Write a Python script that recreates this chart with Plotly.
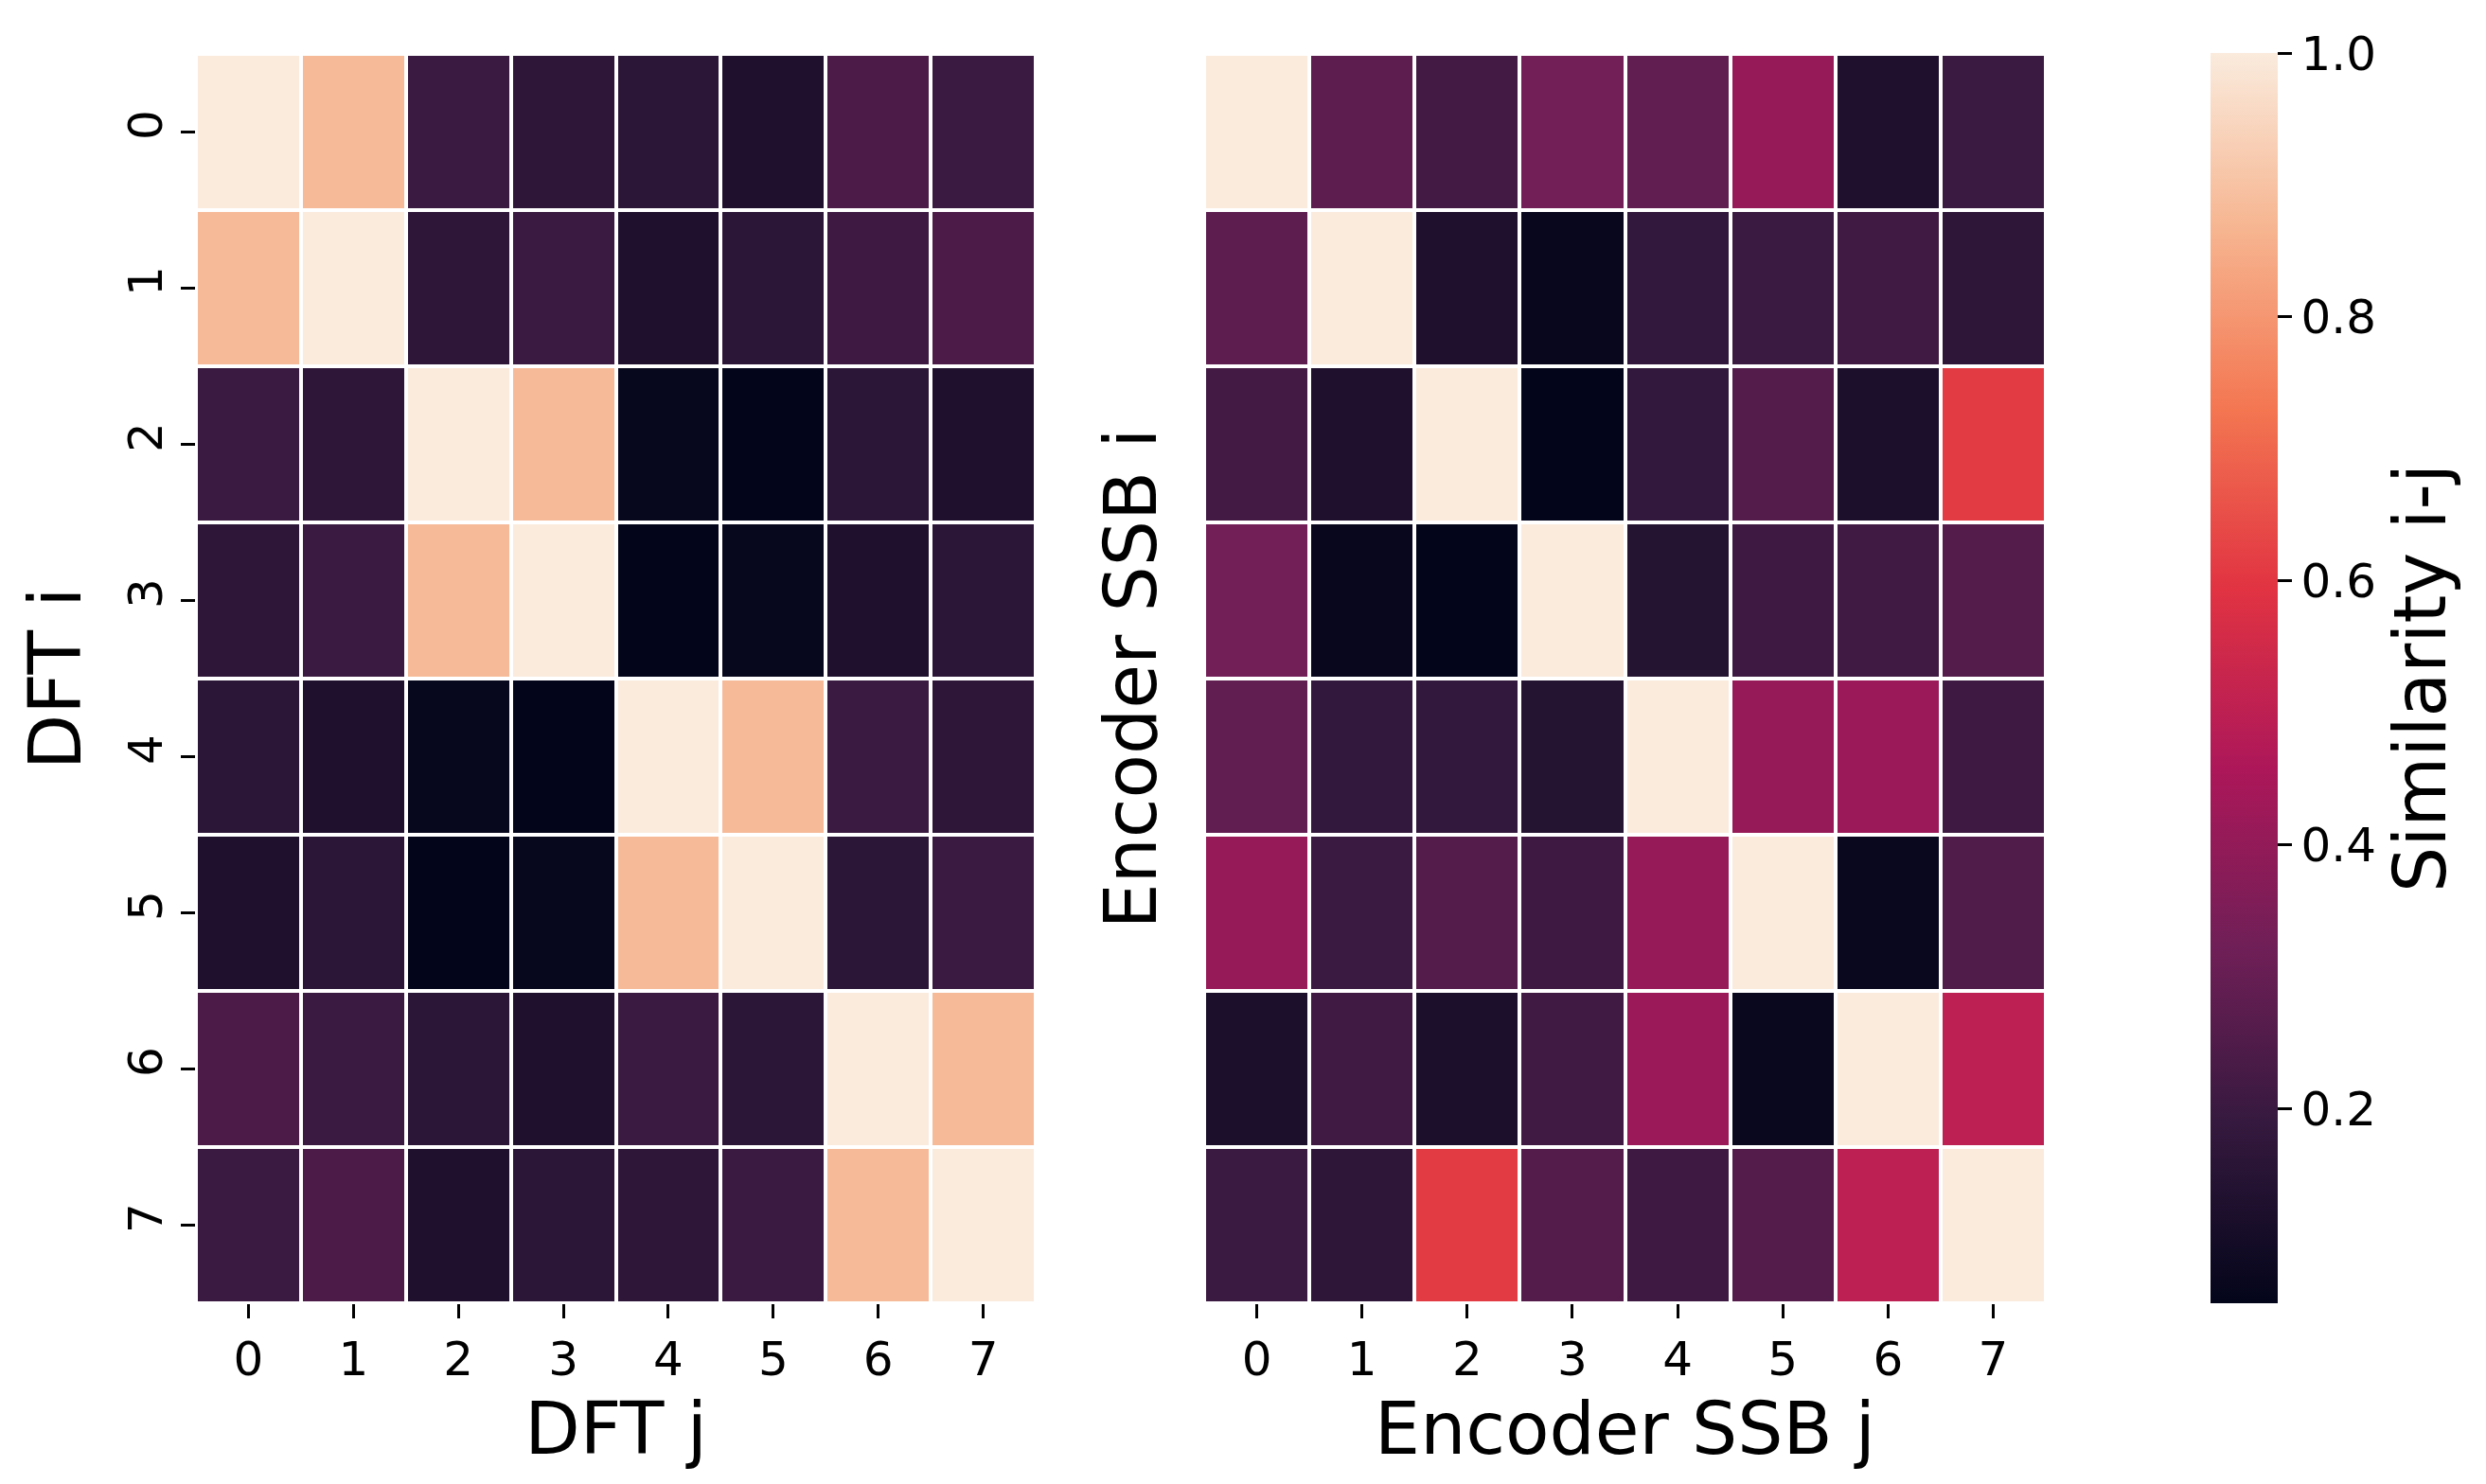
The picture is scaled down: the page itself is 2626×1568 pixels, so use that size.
import plotly.graph_objects as go

# similarity matrices (row i, column j)
labels = [0, 1, 2, 3, 4, 5, 6, 7]

dft_sim = [
    [1.00, 0.88, 0.20, 0.17, 0.165, 0.13, 0.24, 0.20],
    [0.88, 1.00, 0.17, 0.20, 0.13, 0.165, 0.21, 0.24],
    [0.20, 0.17, 1.00, 0.88, 0.064, 0.053, 0.165, 0.13],
    [0.17, 0.20, 0.88, 1.00, 0.053, 0.064, 0.13, 0.165],
    [0.165, 0.13, 0.064, 0.053, 1.00, 0.88, 0.20, 0.17],
    [0.13, 0.165, 0.053, 0.064, 0.88, 1.00, 0.165, 0.20],
    [0.24, 0.20, 0.165, 0.13, 0.20, 0.165, 1.00, 0.88],
    [0.20, 0.24, 0.13, 0.165, 0.17, 0.20, 0.88, 1.00],
]

ssb_sim = [
    [1.00, 0.28, 0.22, 0.33, 0.29, 0.41, 0.13, 0.20],
    [0.28, 1.00, 0.13, 0.069, 0.18, 0.20, 0.215, 0.17],
    [0.22, 0.13, 1.00, 0.053, 0.18, 0.26, 0.118, 0.61],
    [0.33, 0.069, 0.053, 1.00, 0.145, 0.21, 0.215, 0.26],
    [0.29, 0.18, 0.18, 0.145, 1.00, 0.41, 0.42, 0.21],
    [0.41, 0.20, 0.26, 0.21, 0.41, 1.00, 0.07, 0.25],
    [0.118, 0.215, 0.118, 0.215, 0.42, 0.07, 1.00, 0.50],
    [0.20, 0.17, 0.61, 0.26, 0.21, 0.26, 0.50, 1.00],
]

cbar_ticks = [0.2, 0.4, 0.6, 0.8, 1.0]

# seaborn "rocket"
ROCKET = [
    [0.0, "#03051a"], [1 / 7, "#35193e"], [2 / 7, "#701f57"], [3 / 7, "#ad1759"],
    [4 / 7, "#e13342"], [5 / 7, "#f37651"], [6 / 7, "#f6b48f"], [1.0, "#faebdd"],
]
FONT = "DejaVu Sans"
TICK = dict(family=FONT, size=50, color="black")
TITLE = dict(family=FONT, size=76, color="black")

fig = go.Figure()
fig.add_trace(go.Heatmap(z=dft_sim, x=labels, y=labels, coloraxis="coloraxis",
                         xgap=4, ygap=4, xaxis="x", yaxis="y"))
fig.add_trace(go.Heatmap(z=ssb_sim, x=labels, y=labels, coloraxis="coloraxis",
                         xgap=4, ygap=4, xaxis="x2", yaxis="y2"))

xcommon = dict(tickmode="array", tickvals=labels, ticks="outside", ticklen=15, tickwidth=3,
               tickcolor="black", tickfont=TICK, showgrid=False, zeroline=False,
               showline=False, title_font=TITLE, title_standoff=14, automargin=False)

fig.update_layout(
    width=2626, height=1568,
    paper_bgcolor="white", plot_bgcolor="white",
    margin=dict(l=0, r=0, t=0, b=0, pad=0, autoexpand=False),
    xaxis=dict(domain=[199 / 2626, 1086 / 2626], anchor="y", title_text="DFT j", **xcommon),
    xaxis2=dict(domain=[1264 / 2626, 2153 / 2626], anchor="y2", title_text="Encoder SSB j", **xcommon),
    yaxis=dict(domain=[199 / 1568, 1519 / 1568], autorange="reversed", tickmode="array",
               tickvals=labels, ticks="outside", ticklen=15, tickwidth=3, tickcolor="black",
               tickangle=-90, tickfont=TICK, showgrid=False, zeroline=False, automargin=False,
               title_text="DFT i", title_font=TITLE, title_standoff=14),
    yaxis2=dict(domain=[199 / 1568, 1519 / 1568], anchor="x2", autorange="reversed",
                showticklabels=False, ticks="", showgrid=False, zeroline=False, automargin=False,
                title_text="Encoder SSB i", title_font=TITLE, title_standoff=24),
    coloraxis=dict(
        colorscale=ROCKET, cmin=0.053, cmax=1.0,
        colorbar=dict(
            x=2327 / 2626, xanchor="left", y=199 / 1568, yanchor="bottom",
            len=1321 / 1568, lenmode="fraction", thickness=71, outlinewidth=0,
            xpad=0, ypad=0,
            tickmode="array", tickvals=cbar_ticks, tickformat=".1f",
            ticks="outside", ticklen=15, tickwidth=3, tickcolor="black", tickfont=TICK,
            title=dict(text="Similarity i-j", side="right", font=TITLE),
        ),
    ),
)

fig.write_html("out.html")
